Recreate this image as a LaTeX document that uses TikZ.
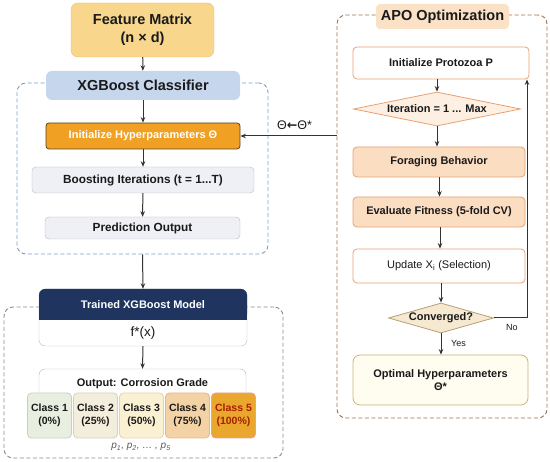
\documentclass[tikz,border=0pt]{standalone}
\usepackage{fontspec}
\setmainfont{Liberation Sans}
\newfontfamily\dejavu{DejaVu Sans}
\usetikzlibrary{arrows.meta,shapes.geometric}
\definecolor{txt}{HTML}{1A1A1A}
\definecolor{arrowc}{HTML}{333333}
\definecolor{fmfill}{HTML}{F8D68C}
\definecolor{fmbd}{HTML}{E9BE6A}
\definecolor{xgbfill}{HTML}{C6D6EC}
\definecolor{bluedash}{HTML}{7C9EC6}
\definecolor{initfill}{HTML}{F0A023}
\definecolor{initbd}{HTML}{5A4020}
\definecolor{grayfill}{HTML}{EEF0F5}
\definecolor{graybd}{HTML}{B4B8C4}
\definecolor{graydash}{HTML}{8C8C8C}
\definecolor{navy}{HTML}{1F355F}
\definecolor{apodash}{HTML}{A07250}
\definecolor{apotitle}{HTML}{FBE2C6}
\definecolor{orbd}{HTML}{E8A070}
\definecolor{peach}{HTML}{FBDDC2}
\definecolor{iterfill}{HTML}{FDF0E3}
\definecolor{convfill}{HTML}{F6E9D2}
\definecolor{convbd}{HTML}{B8A070}
\definecolor{optfill}{HTML}{FFFCF0}
\definecolor{optbd}{HTML}{C8B478}
\definecolor{cA}{HTML}{E9EFE0}\definecolor{cAb}{HTML}{C8D0B8}
\definecolor{cB}{HTML}{F3EDDC}\definecolor{cBb}{HTML}{D8D0B8}
\definecolor{cC}{HTML}{FAF0D2}\definecolor{cCb}{HTML}{E4D4AC}
\definecolor{cD}{HTML}{F3D2A6}\definecolor{cDb}{HTML}{E2BA8A}
\definecolor{cE}{HTML}{E9A72E}\definecolor{cEb}{HTML}{EBA0A0}
\definecolor{cEt}{HTML}{A82000}
\begin{document}
\begin{tikzpicture}[x=1pt,y=-1pt,
  box/.style={draw, rounded corners=4pt, align=center, inner sep=0pt, text=txt,
    font=\bfseries\fontsize{11}{13}\selectfont},
  arr/.style={draw=arrowc, line width=1pt, -{Stealth[length=5.5pt,width=4.5pt]}},
  cont/.style={dashed, dash pattern=on 4pt off 2.5pt, line width=0.9pt, rounded corners=9pt, inner sep=0pt},
  cls/.style={draw, rounded corners=4pt, align=center, inner sep=0pt, text=txt,
    minimum width=44pt, minimum height=45pt, line width=0.8pt,
    font=\bfseries\fontsize{10.5}{13}\selectfont},
  lbl/.style={font=\fontsize{9}{11}\selectfont, text=txt, inner sep=0pt}]
\useasboundingbox (0,0) rectangle (550,462);

% containers
\node[cont, draw=bluedash, minimum width=251pt, minimum height=171pt] (xgbc) at (142.5,168.5) {};
\node[cont, draw=graydash, minimum width=279pt, minimum height=151pt] (outc) at (143.5,382.5) {};
\node[cont, draw=apodash, minimum width=210pt, minimum height=403pt] (apoc) at (442,216.5) {};

% left column
\node[box, draw=fmbd, fill=fmfill, rounded corners=7pt, minimum width=143pt, minimum height=54pt,
  font=\bfseries\fontsize{14.5}{18}\selectfont] (fm) at (142.5,30) {Feature Matrix\\(n × d)};
\node[box, draw=none, fill=xgbfill, rounded corners=6pt, minimum width=194pt, minimum height=29pt,
  font=\bfseries\fontsize{14.5}{17}\selectfont] (xgb) at (143,85.5) {XGBoost Classifier};
\node[box, draw=initbd, fill=initfill, text=white, rounded corners=3pt, line width=0.8pt,
  minimum width=194pt, minimum height=26pt, font=\bfseries\fontsize{11}{13}\selectfont] (init) at (143,136) {Initialize Hyperparameters Θ};
\node[box, draw=graybd, fill=grayfill, minimum width=222pt, minimum height=26pt,
  font=\bfseries\fontsize{11.8}{14}\selectfont] (boost) at (143,180) {Boosting Iterations (t = 1...T)};
\node[box, draw=graybd, fill=grayfill, minimum width=195pt, minimum height=22pt,
  font=\bfseries\fontsize{11.8}{14}\selectfont] (pred) at (142.5,228) {Prediction Output};

\draw[arr] (fm) -- (xgb);
\draw[arr] (xgb) -- (init);
\draw[arr] (init) -- (boost);
\draw[arr] (boost) -- (pred);

% trained model
\node[draw=graybd, fill=white, rounded corners=6pt, minimum width=208pt, minimum height=57pt, inner sep=0pt] (model) at (143,317.5) {};
\fill[navy] (39,305) rectangle (247,320);
\node[fill=navy, rounded corners=6pt, minimum width=208pt, minimum height=31pt, inner sep=0pt, text=white,
  font=\bfseries\fontsize{11}{13}\selectfont] (trained) at (143,304.5) {Trained XGBoost Model};
\node[inner sep=0pt, text=txt, font=\fontsize{13.5}{15}\selectfont] (fx) at (143,333) {f*(x)};
\draw[arr] (xgbc.south) -- (trained.north);

% output
\node[draw=graybd, fill=white, rounded corners=6pt, minimum width=207pt, minimum height=50pt, inner sep=0pt] (output) at (142.5,394) {};
\node[inner sep=0pt, text=txt, font=\bfseries\fontsize{11}{13}\selectfont] (otitle) at (142.5,384) {Output: Corrosion Grade};
\draw[arr] (model.south) -- (output.north);

\node[cls, draw=cAb, fill=cA] (c1) at (49.5,415.5) {Class 1\\(0\%)};
\node[cls, draw=cBb, fill=cB] (c2) at (95.5,415.5) {Class 2\\(25\%)};
\node[cls, draw=cCb, fill=cC] (c3) at (141.5,415.5) {Class 3\\(50\%)};
\node[cls, draw=cDb, fill=cD] (c4) at (187.5,415.5) {Class 4\\(75\%)};
\node[cls, draw=cEb, fill=cE, text=cEt] (c5) at (233.5,415.5) {Class 5\\(100\%)};
\node[inner sep=0pt, text=black!65, font=\itshape\fontsize{10}{12}\selectfont] (plbl) at (141,447)
  {p\textsubscript{1}, p\textsubscript{2}, … , p\textsubscript{5}};

% APO
\node[box, draw=none, fill=apotitle, minimum width=133pt, minimum height=25pt,
  font=\bfseries\fontsize{14.5}{17}\selectfont] (apot) at (442.5,16.5) {APO Optimization};
\node[box, draw=orbd, fill=white, minimum width=176pt, minimum height=32pt, line width=0.8pt] (initp) at (441,63) {Initialize Protozoa P};
\node[diamond, shape aspect=4.9, draw=orbd, fill=iterfill, line width=0.8pt, inner sep=0pt,
  minimum width=167pt, minimum height=34pt, text=txt, font=\bfseries\fontsize{11}{13}\selectfont] (iter) at (437,109) {Iteration = 1 ... Max};
\node[box, draw=orbd, fill=peach, minimum width=172pt, minimum height=30pt, line width=0.8pt] (forag) at (439,162) {Foraging Behavior};
\node[box, draw=orbd, fill=peach, minimum width=172pt, minimum height=30pt, line width=0.8pt] (evalf) at (439,212) {Evaluate Fitness (5-fold CV)};
\node[box, draw=orbd, fill=white, minimum width=172pt, minimum height=34pt, line width=0.8pt,
  font=\fontsize{11}{13}\selectfont] (upd) at (439,266) {Update X\textsubscript{i} (Selection)};
\node[diamond, shape aspect=3.5, draw=convbd, fill=convfill, line width=0.8pt, inner sep=0pt,
  minimum width=105pt, minimum height=30pt, text=txt, font=\bfseries\fontsize{11}{13}\selectfont] (conv) at (441,318) {Converged?};
\node[box, draw=optbd, fill=optfill, rounded corners=7pt, minimum width=175pt, minimum height=50pt, line width=0.8pt] (opt) at (440.5,380)
  {Optimal Hyperparameters\\Θ*};

\draw[arr] (initp.south -| iter) -- (iter.north);
\draw[arr] (iter.south) -- (iter.south |- forag.north);
\draw[arr] (forag.south -| 439.5,0) -- (evalf.north -| 439.5,0);
\draw[arr] (evalf.south -| 440,0) -- (upd.north -| 440,0);
\draw[arr] (upd.south -| conv) -- (conv.north);
\draw[arr] (conv.south) -- (conv.south |- opt.north);
\node[lbl, anchor=west] (yes) at (451,343) {Yes};
\draw[arr] (conv.east) -- (527,318) -- (527,0 |- initp.south);
\node[lbl] (no) at (512,327) {No};

% feedback
\draw[arr] (init.east -| apoc.west) -- (init.east);
\node[inner sep=0pt, text=txt, font=\fontsize{12.5}{14}\selectfont] (thl) at (294.5,125) {Θ{\dejavu\bfseries ←}Θ*};
\end{tikzpicture}
\end{document}
